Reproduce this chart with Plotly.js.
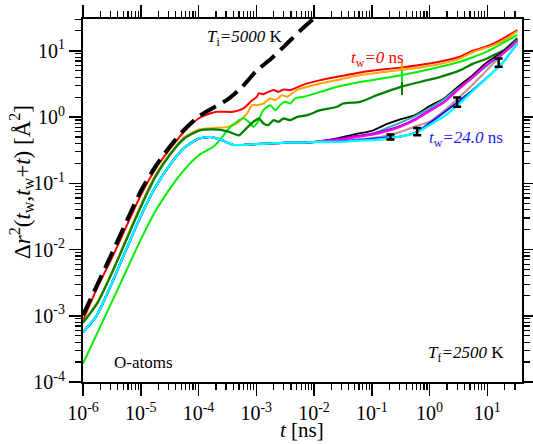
<!DOCTYPE html>
<html><head><meta charset="utf-8">
<script src="https://cdn.plot.ly/plotly-3.0.1.min.js"></script>
<style>html,body{margin:0;padding:0;background:#fff;} #chart{width:533px;height:444px;}</style>
</head><body><div id="chart"></div>
<script>
// ---- data (t in ns, MSD in Å^2) ----
const tEq = [1e-6, 3.2e-6, 1e-5, 1.8e-5, 3.2e-5, 5.6e-5, 1e-4, 1.8e-4, 3.2e-4, 5.6e-4, 1e-3, 1.8e-3, 3.2e-3, 5.6e-3, 1e-2, 1.3e-2];
const yEq = [1.02e-3, 8.9e-3, 7.6e-2, 0.18, 0.36, 0.64, 1.02, 1.38, 1.85, 2.8, 4.95, 7.6, 12.2, 19.7, 30.9, 38];

const tRed = [1e-6, 1.8e-6, 3.2e-6, 1e-5, 1.8e-5, 3.2e-5, 5.6e-5, 1e-4, 1.26e-4, 2.1e-4, 4e-4, 6e-4, 8.3e-4, 1.02e-3, 1.1e-3, 1.33e-3, 1.62e-3, 2e-3, 2.43e-3, 2.95e-3, 3.9e-3, 6.6e-3, 1.29e-2, 2.5e-2, 6.3e-2, 0.1, 0.32, 1, 3.2, 5.6, 10, 18, 33];
const yRed = [8.5e-4, 2.75e-3, 7.6e-3, 6.6e-2, 0.166, 0.33, 0.60, 0.95, 1.05, 1.2, 1.2, 1.35, 1.76, 2.02, 2.27, 2.21, 2.40, 2.55, 2.40, 2.61, 2.55, 3.09, 3.61, 4.05, 4.72, 5.0, 5.57, 6.41, 8.04, 10.0, 11.7, 15.0, 20.6];

const tOrange = [1e-6, 1.8e-6, 3.2e-6, 1e-5, 1.8e-5, 3.2e-5, 5.6e-5, 1e-4, 1.8e-4, 3.2e-4, 4.6e-4, 6.9e-4, 8.4e-4, 1.02e-3, 1.33e-3, 1.74e-3, 2.14e-3, 2.8e-3, 3.4e-3, 5e-3, 1.29e-2, 2.8e-2, 6.3e-2, 0.32, 1, 3.2, 5.8, 12.9, 21.9, 33];
const yOrange = [8.0e-4, 1.66e-3, 4.7e-3, 4.7e-2, 0.135, 0.28, 0.49, 0.645, 0.68, 0.71, 0.80, 1.13, 1.51, 1.51, 1.60, 1.91, 1.80, 2.14, 2.02, 2.55, 3.21, 3.70, 4.30, 5.12, 5.9, 7.5, 9.66, 12.2, 15.4, 19.8];

const tGreen = [1e-6, 3.2e-6, 1e-5, 1.8e-5, 3.2e-5, 5.6e-5, 1e-4, 1.8e-4, 2.5e-4, 3.2e-4, 4.6e-4, 6e-4, 7.9e-4, 8.9e-4, 1.02e-3, 1.33e-3, 1.74e-3, 2.14e-3, 2.57e-3, 3.16e-3, 3.9e-3, 4.7e-3, 6.6e-3, 1.29e-2, 2.5e-2, 6.3e-2, 0.32, 1, 3.2, 5.6, 10, 18, 33];
const yGreen = [1.9e-4, 1.66e-3, 1.41e-2, 3.8e-2, 8.3e-2, 0.158, 0.263, 0.355, 0.48, 0.645, 0.85, 0.955, 0.80, 0.71, 0.80, 1.27, 1.51, 1.27, 1.51, 1.70, 1.60, 1.91, 2.02, 2.40, 2.86, 3.39, 4.27, 5.25, 6.76, 8.0, 9.8, 12.9, 17.4];

const tDkGreen = [1e-6, 1.8e-6, 3.2e-6, 1e-5, 1.8e-5, 3.2e-5, 5.6e-5, 1e-4, 1.8e-4, 3.2e-4, 5e-4, 6.8e-4, 8.9e-4, 1.1e-3, 1.33e-3, 1.62e-3, 2e-3, 2.4e-3, 2.95e-3, 3.9e-3, 5e-3, 7.6e-3, 1.29e-2, 2.5e-2, 3.2e-2, 6.3e-2, 0.123, 0.32, 0.91, 1.54, 3.4, 5.8, 10, 12.9, 19.5, 33];
const yDkGreen = [7.8e-4, 1.58e-3, 4.5e-3, 4.4e-2, 0.126, 0.27, 0.47, 0.62, 0.65, 0.61, 0.53, 0.68, 0.845, 0.95, 0.80, 0.755, 0.90, 0.845, 0.95, 0.90, 1.0, 1.07, 1.27, 1.43, 1.60, 1.70, 2.14, 2.86, 3.6, 4.05, 5.1, 6.46, 7.67, 8.6, 10.2, 15.5];

// curves that stay on the plateau (long waiting times)
const tLate = [1e-6, 1.74e-6, 3.2e-6, 5.6e-6, 1e-5, 1.8e-5, 3.2e-5, 5.6e-5, 1e-4, 1.6e-4, 2.5e-4, 4e-4, 6.3e-4, 1e-3, 1.8e-3, 3.2e-3, 5.6e-3, 1e-2, 1.8e-2, 3.2e-2, 5.6e-2, 0.1, 0.18, 0.32, 0.56, 1, 1.8, 3.2, 5.6, 10, 18, 33];
const yLateShort = [5.6e-4, 1.02e-3, 3.2e-3, 1.0e-2, 3.2e-2, 8.9e-2, 0.19, 0.34, 0.47, 0.50, 0.45, 0.38, 0.38, 0.39, 0.40, 0.41, 0.41, 0.42];
const yBrownLong   = [0.43, 0.44, 0.46, 0.48, 0.52, 0.60, 0.72, 0.85, 1.25, 1.95, 3.1, 5.2, 8.7, 13.5];
const yBlackLong   = [0.45, 0.50, 0.56, 0.62, 0.78, 0.93, 1.07, 1.46, 1.93, 2.93, 4.30, 6.76, 9.55, 14.8];
const yTealLong    = [0.44, 0.47, 0.51, 0.55, 0.68, 0.83, 1.03, 1.36, 1.86, 2.74, 3.98, 6.03, 8.91, 14.5];
const yPurpleLong  = [0.45, 0.48, 0.52, 0.56, 0.63, 0.74, 0.93, 1.26, 1.70, 2.66, 4.0, 6.3, 8.9, 14.0];
const yMagentaLong = [0.44, 0.46, 0.50, 0.54, 0.61, 0.72, 0.90, 1.23, 1.68, 2.64, 3.98, 6.31, 8.91, 14.0];
const yBlueLong    = [0.42, 0.43, 0.45, 0.47, 0.49, 0.51, 0.58, 0.81, 1.18, 1.73, 2.55, 3.98, 6.46, 12.8];
const yCyanLong    = [0.42, 0.425, 0.44, 0.45, 0.47, 0.51, 0.57, 0.755, 1.03, 1.57, 2.46, 3.98, 6.46, 13.0];

// glitches at t ~ 0.33 ns
const tGlitch = [0.333, 0.333];
const yGlitchOrange = [4.8, 6.8];
const yGlitchGreen = [3.4, 5.1];
const yGlitchDkGreen = [2.14, 3.4];

// error bars
const tErr = [0.21, 0.61, 3.0, 15.7];
const yErr = [0.50, 0.605, 1.68, 6.64];
const errUp = [0.046, 0.078, 0.30, 1.03];
const errDown = [0.042, 0.072, 0.25, 0.91];

// ticks
const xTickVals = [1e-6, 1e-5, 1e-4, 1e-3, 1e-2, 1e-1, 1, 10];
const xTickText = ['10<sup>-6</sup>', '10<sup>-5</sup>', '10<sup>-4</sup>', '10<sup>-3</sup>', '10<sup>-2</sup>', '10<sup>-1</sup>', '10<sup>0</sup>', '10<sup>1</sup>'];
const yTickVals = [1e-4, 1e-3, 1e-2, 1e-1, 1, 10];
const yTickText = ['10<sup>-4</sup>', '10<sup>-3</sup>', '10<sup>-2</sup>', '10<sup>-1</sup>', '10<sup>0</sup>', '10<sup>1</sup>'];

function minorVals(e0, e1) {
  const v = [];
  for (let e = e0; e <= e1; e++) for (let d = 2; d <= 9; d++) v.push(d * Math.pow(10, e));
  return v;
}

const F = '"Liberation Serif", "Times New Roman", serif';
function curve(x, y, color, width, shape) {
  return {x: x, y: y, type: 'scatter', mode: 'lines', hoverinfo: 'skip', showlegend: false,
    line: {color: color, width: width, shape: shape || 'spline', smoothing: 0.6}};
}

const traces = [
  curve(tRed, yRed, '#ff0000', 2),
  curve(tOrange, yOrange, '#ffa500', 2),
  curve(tGreen, yGreen, '#00f000', 2),
  curve(tDkGreen, yDkGreen, '#008000', 2.3),
  curve(tGlitch, yGlitchOrange, '#ffa500', 2, 'linear'),
  curve(tGlitch, yGlitchGreen, '#00f000', 2, 'linear'),
  curve(tGlitch, yGlitchDkGreen, '#008000', 2, 'linear'),
  curve(tLate, yLateShort.concat(yBrownLong), '#c09090', 2),
  curve(tLate, yLateShort.concat(yBlackLong), '#000000', 1.8),
  curve(tLate, yLateShort.concat(yTealLong), '#30b0b0', 2),
  curve(tLate, yLateShort.concat(yPurpleLong), '#9000d0', 2),
  curve(tLate, yLateShort.concat(yMagentaLong), '#ff00ff', 2),
  curve(tLate, yLateShort.concat(yBlueLong), '#1010ff', 2),
  curve(tLate, yLateShort.concat(yCyanLong), '#00ffff', 2.3),
  {x: tEq, y: yEq, type: 'scatter', mode: 'lines', hoverinfo: 'skip', showlegend: false,
    line: {color: '#000000', width: 4, dash: '18px,8px', shape: 'spline', smoothing: 0.6}},
  {x: tErr, y: yErr, type: 'scatter', mode: 'markers', hoverinfo: 'skip', showlegend: false,
    marker: {size: 1, color: '#000'},
    error_y: {type: 'data', symmetric: false, array: errUp, arrayminus: errDown, color: '#000', thickness: 2.5, width: 4}}
];

const axisCommon = {
  type: 'log', showline: true, linecolor: '#000', linewidth: 2, mirror: 'allticks',
  ticks: 'outside', ticklen: 12, tickwidth: 1.5, tickcolor: '#000',
  showgrid: false, zeroline: false, tickmode: 'array',
  tickfont: {family: F, size: 20, color: '#000'}
};

const W = 439, H = 363, L = 83, T = 19;
function px(x) { return (x - L) / W; }
function py(y) { return (T + H - y) / H; }

const annFont = {family: F, size: 17, color: '#000'};
const layout = {
  width: 533, height: 444,
  margin: {l: 83, r: 11, t: 19, b: 62},
  paper_bgcolor: '#fff', plot_bgcolor: '#fff',
  font: {family: F, color: '#000'},
  xaxis: Object.assign({}, axisCommon, {range: [-6, 1.6], tickvals: xTickVals, ticktext: xTickText,
    minor: {tickmode: 'array', tickvals: minorVals(-6, 1), ticks: 'outside', ticklen: 6, tickwidth: 1.2, tickcolor: '#000', showgrid: false}}),
  yaxis: Object.assign({}, axisCommon, {range: [-4, 1.48], tickvals: yTickVals, ticktext: yTickText,
    minor: {tickmode: 'array', tickvals: minorVals(-4, 1), ticks: 'outside', ticklen: 6, tickwidth: 1.2, tickcolor: '#000', showgrid: false}}),
  annotations: [
    {xref: 'paper', yref: 'paper', x: px(205), y: py(38), xanchor: 'left', yanchor: 'middle', showarrow: false,
      text: '<i>T</i><sub>i</sub><i>=5000</i> K', font: annFont},
    {xref: 'paper', yref: 'paper', x: px(349), y: py(59), xanchor: 'left', yanchor: 'middle', showarrow: false,
      text: '<i>t</i><sub>w</sub><i>=0</i> ns', font: Object.assign({}, annFont, {color: '#ff0000'})},
    {xref: 'paper', yref: 'paper', x: px(427), y: py(139), xanchor: 'left', yanchor: 'middle', showarrow: false,
      text: '<i>t</i><sub>w</sub><i>=24.0</i> ns', font: Object.assign({}, annFont, {color: '#2222ee'})},
    {xref: 'paper', yref: 'paper', x: px(112), y: py(362), xanchor: 'left', yanchor: 'middle', showarrow: false,
      text: 'O-atoms', font: annFont},
    {xref: 'paper', yref: 'paper', x: px(426), y: py(354), xanchor: 'left', yanchor: 'middle', showarrow: false,
      text: '<i>T</i><sub>f</sub><i>=2500</i> K', font: annFont},
    {xref: 'paper', yref: 'paper', x: px(302), y: 0, yshift: -62, xanchor: 'center', yanchor: 'bottom', showarrow: false,
      text: '<i>t</i> [ns]', font: {family: F, size: 21, color: '#000'}},
    {xref: 'paper', yref: 'paper', x: px(21), y: py(182), xanchor: 'center', yanchor: 'middle', showarrow: false, textangle: -90,
      text: 'Δ<i>r</i><sup>2</sup>(<i>t</i><sub>w</sub>,<i>t</i><sub>w</sub>+<i>t</i>) [Å<sup>2</sup>]', font: {family: F, size: 23, color: '#000'}}
  ]
};

Plotly.newPlot('chart', traces, layout, {displayModeBar: false, staticPlot: true});
</script>
</body></html>
